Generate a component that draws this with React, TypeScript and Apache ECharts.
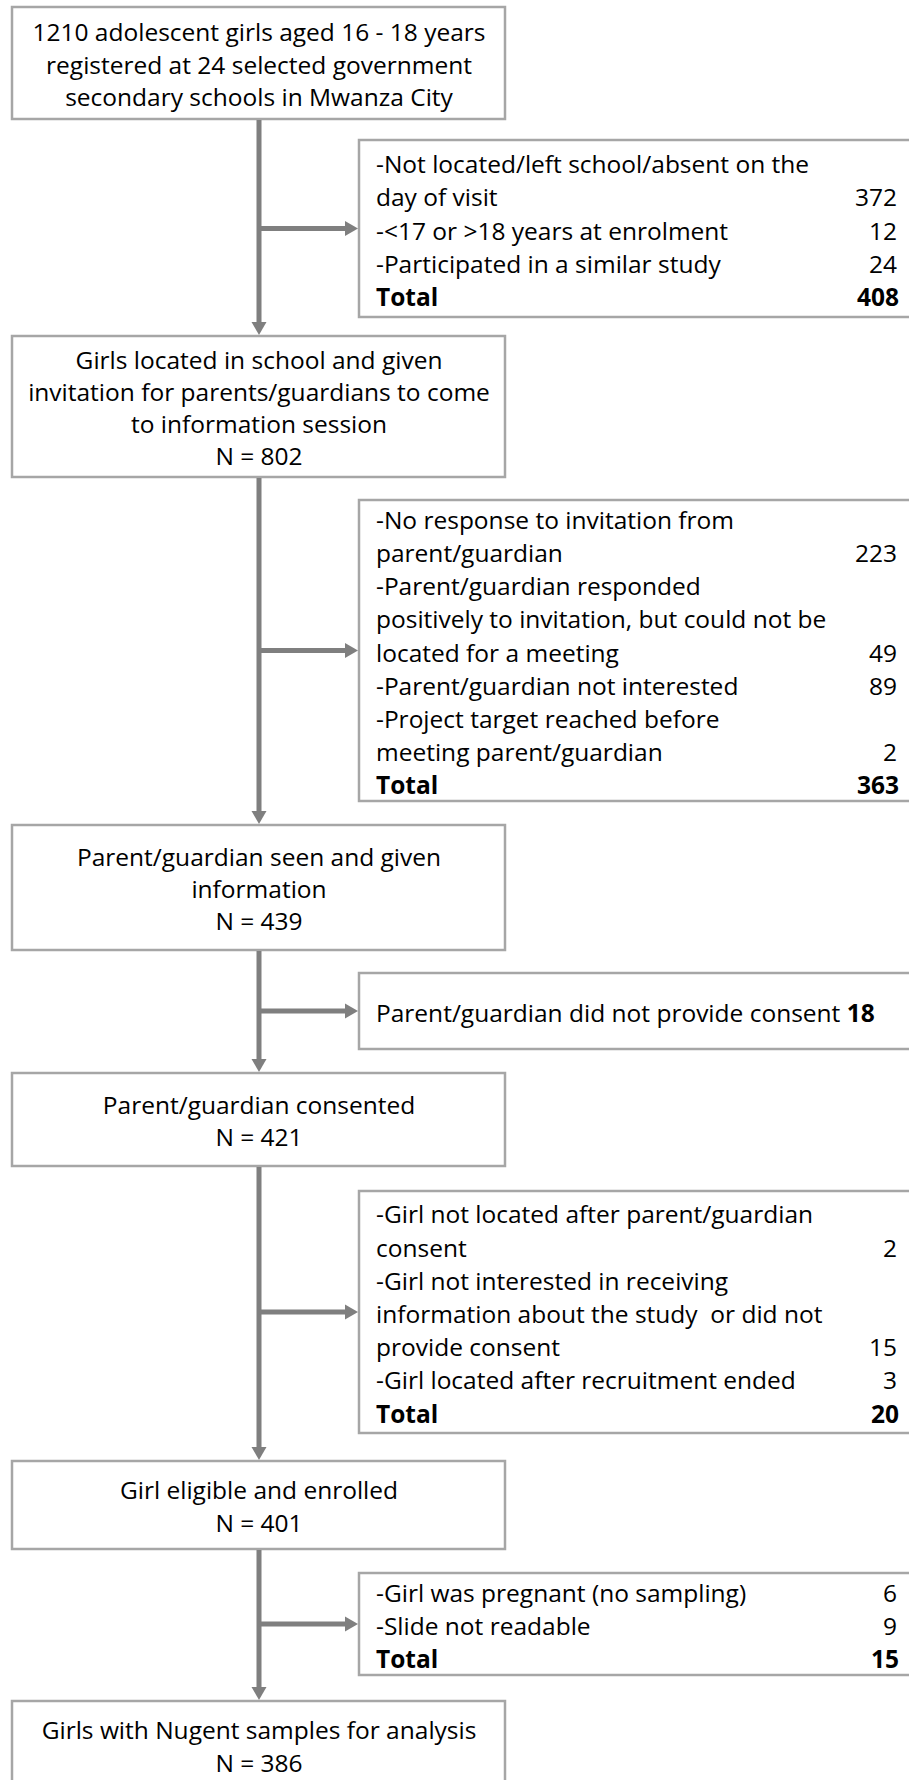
import React, { useEffect, useRef } from "react";
import * as echarts from "echarts";

// ---- content ----
const mainLines: string[][] = [
  ["1210 adolescent girls aged 16 - 18 years", "registered at 24 selected government", "secondary schools in Mwanza City"],
  ["Girls located in school and given", "invitation for parents/guardians to come", "to information session"],
  ["Parent/guardian seen and given", "information"],
  ["Parent/guardian consented"],
  ["Girl eligible and enrolled"],
  ["Girls with Nugent samples for analysis"],
];
const mainN: (number | null)[] = [null, 802, 439, 421, 401, 386];

const exclusionReasons: string[][][] = [
  [["-Not located/left school/absent on the", "day of visit"], ["-<17 or >18 years at enrolment"], ["-Participated in a similar study"]],
  [
    ["-No response to invitation from", "parent/guardian"],
    ["-Parent/guardian responded", "positively to invitation, but could not be", "located for a meeting"],
    ["-Parent/guardian not interested"],
    ["-Project target reached before", "meeting parent/guardian"],
  ],
  [["Parent/guardian did not provide consent"]],
  [
    ["-Girl not located after parent/guardian", "consent"],
    ["-Girl not interested in receiving", "information about the study  or did not", "provide consent"],
    ["-Girl located after recruitment ended"],
  ],
  [["-Girl was pregnant (no sampling)"], ["-Slide not readable"]],
];
const exclusionCounts: number[][] = [[372, 12, 24], [223, 49, 89, 2], [18], [2, 15, 3], [6, 9]];
const exclusionTotals: (number | null)[] = [408, 363, null, 20, 15];

// ---- layout (pixels) ----
const mainBoxY: [number, number][] = [[7, 119], [336, 477], [825, 950], [1073, 1166], [1461, 1549], [1701, 1789]];
const exclBoxY: [number, number][] = [[140, 317], [500, 801], [973, 1049], [1191, 1433], [1573, 1675]];
const MAIN_X0 = 12, MAIN_X1 = 505, SPINE_X = 259;
const EXCL_X0 = 359, EXCL_X1 = 914, TEXT_X = 376, NUM_X = 897;
const LINE_H = 33.2, MAIN_LINE_H = 32.2;
const ARROW = "#7f7f7f", BORDER = "#a6a6a6";
const FONT_FAMILY = "'Open Sans'";

function fitFontSize(): number {
  try {
    const c = document.createElement("canvas");
    const ctx = c.getContext("2d")!;
    ctx.font = `100px ${FONT_FAMILY}`;
    const w = ctx.measureText(mainLines[0][0]).width;
    if (w > 0) return Math.round((100 * 450) / w * 2) / 2;
  } catch (e) {}
  return 22;
}

export default function App() {
  const ref = useRef<HTMLDivElement>(null);
  useEffect(() => {
    document.body.style.margin = "0";
    const chart = echarts.init(ref.current!, null, { renderer: "svg" });
    const fs = fitFontSize();
    const font = `${fs}px ${FONT_FAMILY}`;
    const bold = `bold ${fs}px ${FONT_FAMILY}`;
    const els: any[] = [];

    // main boxes
    mainBoxY.forEach(([y0, y1], i) => {
      els.push({
        type: "rect",
        shape: { x: MAIN_X0, y: y0, width: MAIN_X1 - MAIN_X0, height: y1 - y0 },
        style: { fill: "#fff", stroke: BORDER, lineWidth: 2.5 },
      });
      const lines = [...mainLines[i]];
      if (mainN[i] !== null) lines.push(`N = ${mainN[i]}`);
      const cy = (y0 + y1) / 2 + 1;
      lines.forEach((t, k) => {
        els.push({
          type: "text",
          x: SPINE_X,
          y: cy + (k - (lines.length - 1) / 2) * MAIN_LINE_H,
          style: { text: t, font, fill: "#000", align: "center", verticalAlign: "middle" },
        });
      });
      // vertical connector to next box
      if (i < mainBoxY.length - 1) {
        const top = mainBoxY[i + 1][0];
        els.push({
          type: "line",
          shape: { x1: SPINE_X, y1: y1 + 1, x2: SPINE_X, y2: top - 12 },
          style: { stroke: ARROW, lineWidth: 5 },
        });
        els.push({
          type: "polygon",
          shape: { points: [[SPINE_X - 7.5, top - 14], [SPINE_X + 7.5, top - 14], [SPINE_X, top - 1]] },
          style: { fill: ARROW },
        });
      }
    });

    // exclusion boxes
    exclBoxY.forEach(([y0, y1], i) => {
      els.push({
        type: "rect",
        shape: { x: EXCL_X0, y: y0, width: EXCL_X1 - EXCL_X0, height: y1 - y0 },
        style: { fill: "#fff", stroke: BORDER, lineWidth: 2.5 },
      });
      const cy = (y0 + y1) / 2;
      // horizontal arrow
      els.push({
        type: "line",
        shape: { x1: SPINE_X, y1: cy, x2: EXCL_X0 - 12, y2: cy },
        style: { stroke: ARROW, lineWidth: 5 },
      });
      els.push({
        type: "polygon",
        shape: { points: [[EXCL_X0 - 14, cy - 7.5], [EXCL_X0 - 14, cy + 7.5], [EXCL_X0 - 1, cy]] },
        style: { fill: ARROW },
      });

      const rows: { text: string; num: string; bold: boolean }[] = [];
      exclusionReasons[i].forEach((reason, r) => {
        reason.forEach((t, k) => {
          rows.push({ text: t, num: k === reason.length - 1 ? String(exclusionCounts[i][r]) : "", bold: false });
        });
      });
      const total = exclusionTotals[i];
      if (total !== null) rows.push({ text: "Total", num: String(total), bold: true });

      if (total === null && rows.length === 1) {
        // single line with inline bold count
        els.push({
          type: "text",
          x: TEXT_X,
          y: cy + 1,
          style: {
            text: `${rows[0].text} {b|${rows[0].num}}`,
            font,
            fill: "#000",
            align: "left",
            verticalAlign: "middle",
            rich: { b: { font: bold, fill: "#000" } },
          },
        });
        return;
      }
      rows.forEach((row, k) => {
        const y = cy + 1.5 + (k - (rows.length - 1) / 2) * LINE_H;
        els.push({
          type: "text",
          x: TEXT_X,
          y,
          style: { text: row.text, font: row.bold ? bold : font, fill: "#000", align: "left", verticalAlign: "middle" },
        });
        if (row.num) {
          els.push({
            type: "text",
            x: row.bold ? NUM_X + 2 : NUM_X,
            y,
            style: { text: row.num, font: row.bold ? bold : font, fill: "#000", align: "right", verticalAlign: "middle" },
          });
        }
      });
    });

    chart.setOption({ animation: false, backgroundColor: "#fff", graphic: { elements: els } });
    return () => chart.dispose();
  }, []);
  return <div ref={ref} style={{ width: 909, height: 1780 }} />;
}
